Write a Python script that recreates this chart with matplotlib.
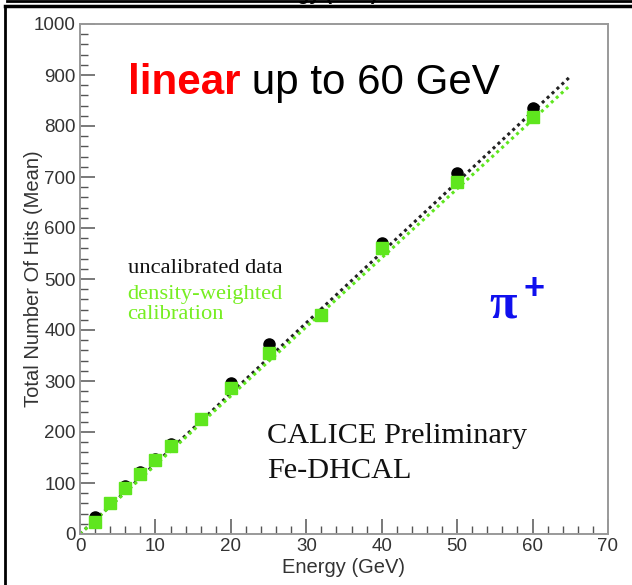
import matplotlib
matplotlib.use("Agg")
import matplotlib.pyplot as plt
from matplotlib.ticker import MultipleLocator
from matplotlib.lines import Line2D

# beam energies (GeV) and mean number of hits
energy_raw = [2, 6, 8, 10, 12, 20, 25, 32, 40, 50, 60]
hits_raw = [33, 95, 122, 148, 177, 297, 372, 432, 570, 708, 835]

energy_cal = [2, 4, 6, 8, 10, 12, 16, 20, 25, 32, 40, 50, 60]
hits_cal = [24, 60, 90, 118, 145, 172, 225, 287, 355, 430, 560, 690, 818]

# linear fits drawn over 0-65 GeV
fit_x = [0, 65]
fit_raw = [0, 897]
fit_cal = [0, 880]

C_GREEN = "#5fe61e"
C_TXT = "#333333"

fig = plt.figure(figsize=(6.32, 5.85), dpi=100)
ax = fig.add_axes([80 / 632, 1 - 534 / 585, 528 / 632, 510 / 585])

ax.plot(fit_x, fit_raw, color="#222222", ls=(0, (1, 1.2)), lw=2.2, zorder=2)
ax.plot(fit_x, fit_cal, color=C_GREEN, ls=(0, (1, 1.2)), lw=2.2, zorder=2)
ax.plot(energy_raw, hits_raw, "o", color="black", ms=8, zorder=3)
ax.plot(energy_cal, hits_cal, "s", color=C_GREEN, ms=8.5, zorder=4)

ax.set_xlim(0, 70)
ax.set_ylim(0, 1000)
ax.xaxis.set_major_locator(MultipleLocator(10))
ax.xaxis.set_minor_locator(MultipleLocator(2))
ax.yaxis.set_major_locator(MultipleLocator(100))
ax.yaxis.set_minor_locator(MultipleLocator(20))
ax.tick_params(which="both", direction="in", top=False, right=False,
               color="#555555", labelsize=13.5, labelcolor=C_TXT, pad=3)
ax.tick_params(which="major", length=11, width=1.1)
ax.tick_params(which="minor", length=6, width=1.0)
for s in ax.spines.values():
    s.set_color("#999999")
    s.set_linewidth(1.4)

for lab in ax.get_xticklabels() + ax.get_yticklabels():
    lab.set_family("Liberation Sans")

ax.set_xlabel("Energy (GeV)", fontsize=14.5, color=C_TXT, family="Liberation Sans")
ax.set_ylabel("Total Number Of Hits (Mean)", fontsize=14.5, color=C_TXT,
              family="Liberation Sans")
ax.xaxis.set_label_coords(0.5, -0.048)
ax.yaxis.set_label_coords(-0.07, 0.5)

# headline
t = ax.text(0.09, 0.863, "linear", transform=ax.transAxes, color="red",
            fontsize=30.3, fontweight="bold", family="Liberation Sans", va="baseline")
ax.annotate(" up to 60 GeV", xycoords=t, xy=(1, 0), va="bottom", ha="left",
            fontsize=30.3, color="black", family="Liberation Sans")

# legend-like labels
ax.text(0.09, 0.52, "uncalibrated data", transform=ax.transAxes, color="#111111",
        fontsize=16.2, family="Liberation Serif", va="center")
ax.text(0.09, 0.45, "density-weighted\ncalibration", transform=ax.transAxes,
        color="#77ee22", fontsize=16.2, family="Liberation Serif", va="center",
        linespacing=1.05)

# particle label
ax.text(0.775, 0.425, "\u03c0", transform=ax.transAxes, color="#1010ee",
        fontsize=36, fontweight="bold", family="Liberation Serif", va="baseline")
ax.text(0.84, 0.46, "+", transform=ax.transAxes, color="#1010ee",
        fontsize=26, fontweight="bold", family="Liberation Sans", va="baseline")

ax.text(0.355, 0.158, "CALICE Preliminary\nFe-DHCAL", transform=ax.transAxes,
        color="#111111", fontsize=21.8, family="Liberation Serif", va="center",
        linespacing=1.45)

# slide frame around the figure
fig.add_artist(Line2D([5 / 632, 1], [1 - 6 / 585] * 2, color="black", lw=2.5))
fig.add_artist(Line2D([7 / 632, 1], [1 - 1 / 585] * 2, color="black", lw=2))
fig.add_artist(Line2D([5 / 632] * 2, [0, 1 - 6 / 585], color="black", lw=2))
fig.text(0.5, 1.0, "Energy (GeV)", ha="center", va="baseline", fontsize=14,
         fontweight="bold", family="Liberation Sans")

fig.savefig("out.png", dpi=100)
